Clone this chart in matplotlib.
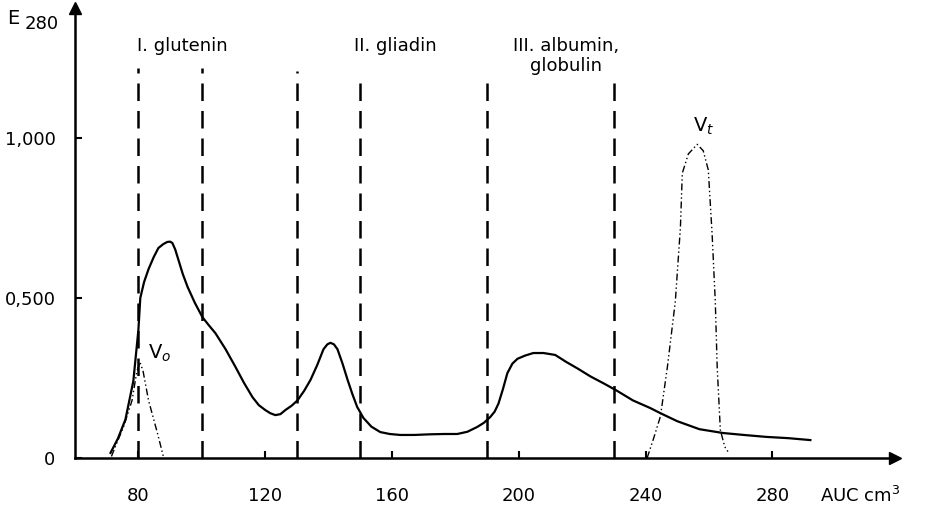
import numpy as np
import matplotlib
matplotlib.use("Agg")
import matplotlib.pyplot as plt

# elution profile (E280 vs volume)
main_x = [71.2, 73.5, 75.9, 78.4, 80.0, 80.6, 81.8, 83.2, 84.8, 86.3, 87.8, 89.1, 90.0, 90.7,
          91.6, 92.6, 94.0, 95.5, 97.8, 100.2, 102.2, 104.3, 107.5, 110.6, 113.3, 116.0, 118.0,
          120.0, 121.6, 123.2, 124.8, 126.4, 128.3, 130.2, 132.3, 134.3, 136.4, 138.4, 139.6,
          140.6, 141.7, 142.8, 144.4, 146.0, 147.5, 149.0, 151.0, 153.5, 156.3, 159.3, 162.6,
          167.0, 172.0, 176.5, 180.6, 183.8, 186.9, 189.0, 191.0, 192.4, 193.6, 195.0, 196.4,
          198.0, 199.6, 202.0, 204.6, 207.8, 211.5, 215.0, 218.5, 222.6, 227.0, 231.0, 236.0,
          241.5, 244.7, 250.0, 257.0, 264.5, 271.0, 278.0, 285.0, 292.0]
main_y = [0.016, 0.06, 0.12, 0.24, 0.40, 0.50, 0.55, 0.59, 0.627, 0.656, 0.668, 0.675, 0.676, 0.672,
          0.652, 0.62, 0.575, 0.535, 0.485, 0.44, 0.415, 0.39, 0.34, 0.285, 0.235, 0.19, 0.165,
          0.15, 0.14, 0.134, 0.137, 0.15, 0.163, 0.18, 0.21, 0.244, 0.29, 0.34, 0.355,
          0.36, 0.355, 0.34, 0.295, 0.244, 0.2, 0.16, 0.125, 0.098, 0.081, 0.075, 0.072,
          0.072, 0.074, 0.075, 0.075, 0.082, 0.097, 0.11, 0.128, 0.145, 0.17, 0.215, 0.265,
          0.295, 0.31, 0.32, 0.328, 0.328, 0.322, 0.30, 0.28, 0.255, 0.232, 0.21, 0.18,
          0.156, 0.14, 0.115, 0.09, 0.078, 0.072, 0.066, 0.062, 0.056]

# void volume marker peak (V0)
vo_x = [71.5, 72.7, 75.3, 78.0, 79.5, 80.5, 81.5, 83.2, 86.0, 88.0]
vo_y = [0.005, 0.035, 0.097, 0.18, 0.27, 0.30, 0.27, 0.18, 0.078, 0.0]

# total volume marker peak (Vt)
vt_x = [240.5, 242.5, 244.7, 246.9, 249.4, 251.0, 251.6, 253.5, 256.3, 258.2, 259.8, 261.0,
        262.0, 262.6, 263.6, 265.0, 266.0]
vt_y = [0.0, 0.06, 0.13, 0.285, 0.49, 0.72, 0.89, 0.95, 0.98, 0.96, 0.90, 0.70,
        0.49, 0.285, 0.087, 0.035, 0.02]

# fraction boundaries (dashed) and their top ends
bounds_x = [80, 100, 130, 150, 190, 230]
bounds_top = [1.22, 1.22, 1.21, 1.195, 1.195, 1.18]

fraction_labels = ["I. glutenin", "II. gliadin", "III. albumin,\nglobulin"]
fraction_label_x = [94, 161, 215]

x_ticks = [80, 120, 160, 200, 240, 280]
y_ticks = [0, 0.5, 1.0]
y_ticklabels = ["0", "0,500", "1,000"]

fig = plt.figure(figsize=(9.47, 5.08), dpi=100)
ax = fig.add_axes([75 / 947, 50 / 508, 820 / 947, 450 / 508])
ax.set_xlim(60, 318.7)
ax.set_ylim(0, 1.406)

for s in ["top", "right"]:
    ax.spines[s].set_visible(False)
for s in ["left", "bottom"]:
    ax.spines[s].set_linewidth(1.8)
ax.plot(1, 0, ">k", ms=9, transform=ax.transAxes, clip_on=False)
ax.plot(0, 1, "^k", ms=9, transform=ax.transAxes, clip_on=False)

ax.plot(main_x, main_y, color="black", lw=1.6, solid_joinstyle="round")
ax.plot(vo_x, vo_y, color="black", lw=1.0, linestyle=(0, (5, 2, 1, 2, 1, 2)))
ax.plot(vt_x, vt_y, color="black", lw=1.0, linestyle=(0, (5, 2, 1, 2, 1, 2)))

for bx, bt in zip(bounds_x, bounds_top):
    ax.plot([bx, bx], [0, bt], color="black", lw=1.8, linestyle=(0, (7, 4)))

for lab, lx in zip(fraction_labels, fraction_label_x):
    ax.text(lx, 1.315, lab, fontsize=13, ha="center", va="top", linespacing=1.15)

ax.text(83, 0.31, "V$_o$", fontsize=14)
ax.text(255, 1.02, "V$_t$", fontsize=14)

ax.set_xticks(x_ticks)
ax.set_xticklabels([str(t) for t in x_ticks], fontsize=13)
ax.set_yticks(y_ticks)
ax.set_yticklabels(y_ticklabels, fontsize=13)
ax.tick_params(axis="x", direction="in", length=5, width=1.5, pad=21)
ax.tick_params(axis="y", direction="in", length=5, width=1.5, pad=14)

fig.text(7 / 947, 1 - 18 / 508, "E", fontsize=14, va="center")
fig.text(25 / 947, 1 - 24 / 508, "280", fontsize=13, va="center")
fig.text(820 / 947, 1 - 496 / 508, "AUC cm$^3$", fontsize=13, va="center")

fig.savefig("out.png", dpi=100)
